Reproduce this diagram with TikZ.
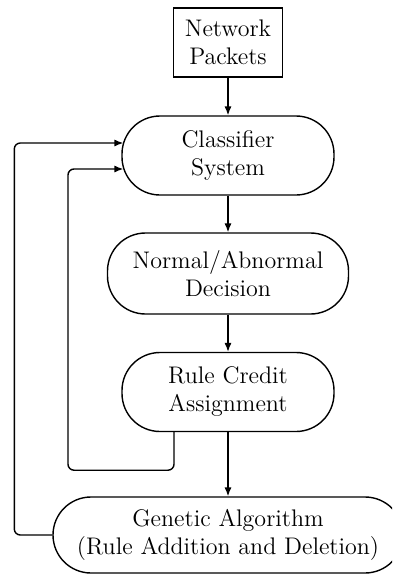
\documentclass[tikz,border=0pt]{standalone}
\usetikzlibrary{arrows.meta,calc}
\begin{document}
\begin{tikzpicture}[x=0.5pt,y=-0.5pt,
  box/.style={draw,line width=0.7pt,align=center,inner sep=0pt,font=\fontsize{12}{14}\selectfont},
  pill/.style={box,rounded corners=19pt},
  arr/.style={draw,line width=0.7pt,-{Latex[length=4.5pt,width=3.6pt]}},
  fback/.style={arr,rounded corners=3pt}]
\useasboundingbox (0,0) rectangle (392,574);
\clip (0,0) rectangle (392,574);
\node[box,minimum width=54.5pt,minimum height=34.5pt] (NP) at (228,42.5) {Network\\Packets};
\node[pill,minimum width=106pt,minimum height=39.5pt] (CS) at (228,155.5) {Classifier\\System};
\node[pill,minimum width=120.5pt,minimum height=40.5pt] (ND) at (228,273.5) {Normal/Abnormal\\Decision};
\node[pill,minimum width=106pt,minimum height=39.5pt] (RC) at (228,392) {Rule Credit\\Assignment};
\node[pill,minimum width=175pt,minimum height=38pt] (GA) at (228,535) {Genetic Algorithm\\(Rule Addition and Deletion)};
\draw[arr] (NP.south) -- (CS.north);
\draw[arr] (CS.south) -- (ND.north);
\draw[arr] (ND.south) -- (RC.north);
\draw[arr] (RC.south) -- (GA.north);
\draw[fback] (GA.west) -- ++(-38,0) |- ($(CS.west)+(2,-12.5)$);
\draw[fback] ($(RC.south)+(-54,0)$) -- ++(0,38) -- ++(-106,0) |- ($(CS.west)+(2,13.5)$);
\end{tikzpicture}
\end{document}
